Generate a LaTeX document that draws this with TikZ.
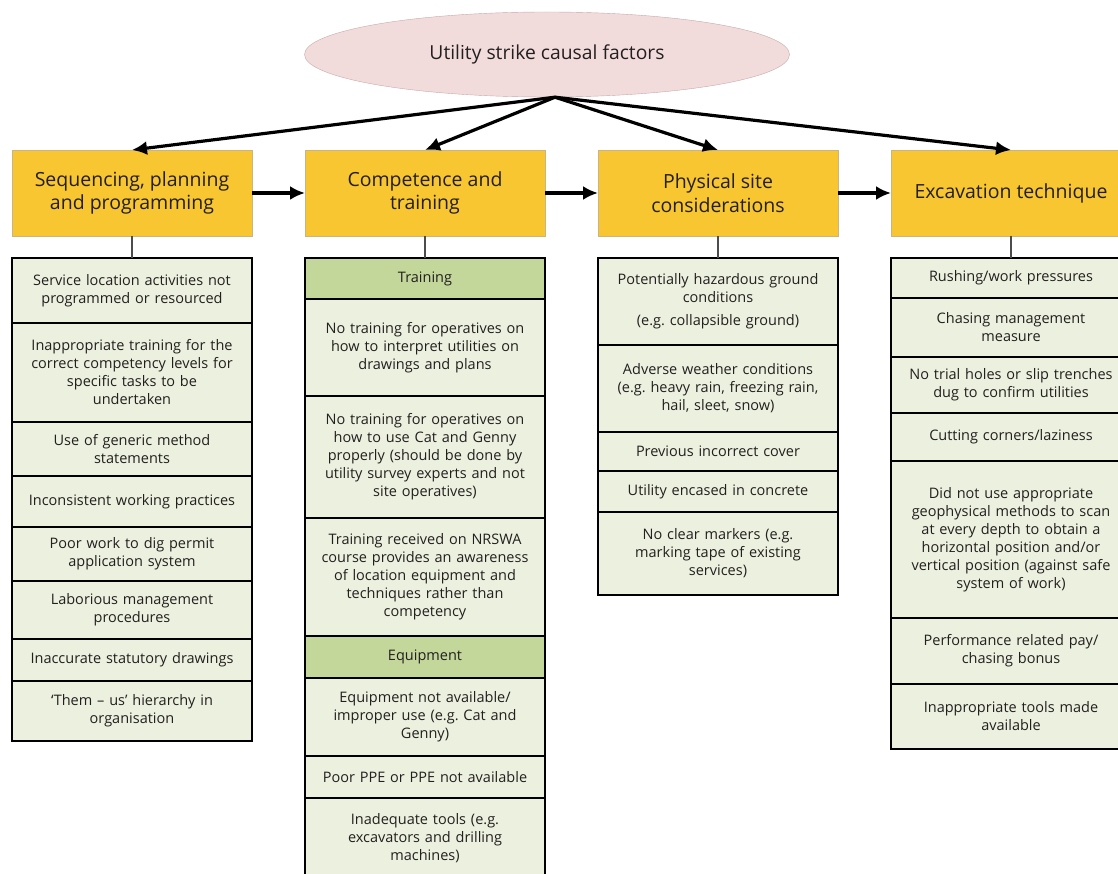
\documentclass[tikz,border=0pt]{standalone}
\usepackage{fontspec}
\setmainfont{Open Sans}
\frenchspacing
\usetikzlibrary{positioning,shapes.geometric,arrows.meta}
\definecolor{headyellow}{HTML}{F8C630}
\definecolor{headedge}{HTML}{C8B486}
\definecolor{cellgreen}{HTML}{EBF1DE}
\definecolor{subgreen}{HTML}{C4D79B}
\definecolor{rootpink}{HTML}{F2DCDB}
\definecolor{rootedge}{HTML}{C9A8A8}
\definecolor{inkgray}{HTML}{231F20}

\begin{document}
\begin{tikzpicture}[x=1pt,y=-1pt,node distance=0pt,
    root/.style={ellipse,draw=rootedge,fill=rootpink,minimum width=485pt,minimum height=85pt,inner sep=0pt,font=\fontsize{19.3}{23}\selectfont,text=inkgray},
    head/.style={draw=headedge,fill=headyellow,minimum width=240pt,minimum height=86pt,inner sep=0pt,outer sep=0pt,align=center,font=\fontsize{19.5}{23.5}\selectfont,text=inkgray},
    cell/.style={draw=black,line width=1.6pt,fill=cellgreen,text width=240pt,minimum height=#1,inner sep=0pt,outer sep=0pt,align=center,font=\fontsize{14.5}{18}\selectfont,text=inkgray},
    subcell/.style={cell=#1,fill=subgreen},
    flow/.style={draw=black,line width=3.2pt,-{Latex[length=15pt,width=14pt]}},
    step flow/.style={flow,line width=4pt},
    stem/.style={draw=black!70,line width=1.4pt}]
    \useasboundingbox (0,0) rectangle (1118,874);

    \node[root] (causes) at (547,54.5) {Utility strike causal factors};
    \coordinate (fork) at ([xshift=8pt]causes.south);

    \node[head] (seq) at (132,193) {Sequencing, planning\\and programming};
    \node[head,right=53pt of seq] (comp) {Competence and\\training};
    \node[head,right=53pt of comp] (phys) {Physical site\\considerations};
    \node[head,right=53pt of phys] (exc) {Excavation technique};

    \node[cell=65pt,below=22pt of seq] (s1) {Service location activities not\\programmed or resourced};
    \node[cell=99pt,below=of s1] (s2) {Inappropriate training for the\\correct competency levels for\\specific tasks to be\\undertaken};
    \node[cell=54pt,below=of s2] (s3) {Use of generic method\\statements};
    \node[cell=51pt,below=of s3] (s4) {Inconsistent working practices};
    \node[cell=54pt,below=of s4] (s5) {Poor work to dig permit\\application system};
    \node[cell=58pt,below=of s5] (s6) {Laborious management\\procedures};
    \node[cell=42pt,below=of s6] (s7) {Inaccurate statutory drawings};
    \node[cell=60pt,below=of s7] (s8) {‘Them – us’ hierarchy in\\organisation};

    \node[subcell=41pt,below=22pt of comp] (c0) {Training};
    \node[cell=97pt,below=of c0] (c1) {No training for operatives on\\how to interpret utilities on\\drawings and plans};
    \node[cell=122pt,below=of c1] (c2) {No training for operatives on\\how to use Cat and Genny\\properly (should be done by\\utility survey experts and not\\site operatives)};
    \node[cell=118pt,below=of c2] (c3) {Training received on NRSWA\\course provides an awareness\\of location equipment and\\techniques rather than\\competency};
    \node[subcell=42pt,below=of c3] (c4) {Equipment};
    \node[cell=78pt,below=of c4] (c5) {Equipment not available/\\improper use (e.g. Cat and\\Genny)};
    \node[cell=42pt,below=of c5] (c6) {Poor PPE or PPE not available};
    \node[cell=80pt,below=of c6] (c7) {Inadequate tools (e.g.\\excavators and drilling\\machines)};

    \node[cell=87pt,below=22pt of phys] (p1) {Potentially hazardous ground\\conditions\\[5pt](e.g. collapsible ground)};
    \node[cell=87pt,below=of p1] (p2) {Adverse weather conditions\\(e.g. heavy rain, freezing rain,\\hail, sleet, snow)};
    \node[cell=39pt,below=of p2] (p3) {Previous incorrect cover};
    \node[cell=41pt,below=of p3] (p4) {Utility encased in concrete};
    \node[cell=83pt,below=of p4] (p5) {No clear markers (e.g.\\marking tape of existing\\services)};

    \node[cell=40pt,below=22pt of exc] (e1) {Rushing/work pressures};
    \node[cell=59pt,below=of e1] (e2) {Chasing management\\measure};
    \node[cell=56pt,below=of e2] (e3) {No trial holes or slip trenches\\dug to confirm utilities};
    \node[cell=48pt,below=of e3] (e4) {Cutting corners/laziness};
    \node[cell=157pt,below=of e4] (e5) {Did not use appropriate\\geophysical methods to scan\\at every depth to obtain a\\horizontal position and/or\\vertical position (against safe\\system of work)};
    \node[cell=66pt,below=of e5] (e6) {Performance related pay/\\chasing bonus};
    \node[cell=65pt,below=of e6] (e7) {Inappropriate tools made\\available};

    \path (fork) edge[flow] (seq.north) edge[flow] (comp.north) edge[flow] (phys.north) edge[flow] (exc.north);
    \path (seq) edge[step flow] (comp) (comp) edge[step flow] (phys) (phys) edge[step flow] (exc);
    \draw[stem] (seq) -- (s1) (comp) -- (c0) (phys) -- (p1) (exc) -- (e1);
\end{tikzpicture}
\end{document}
